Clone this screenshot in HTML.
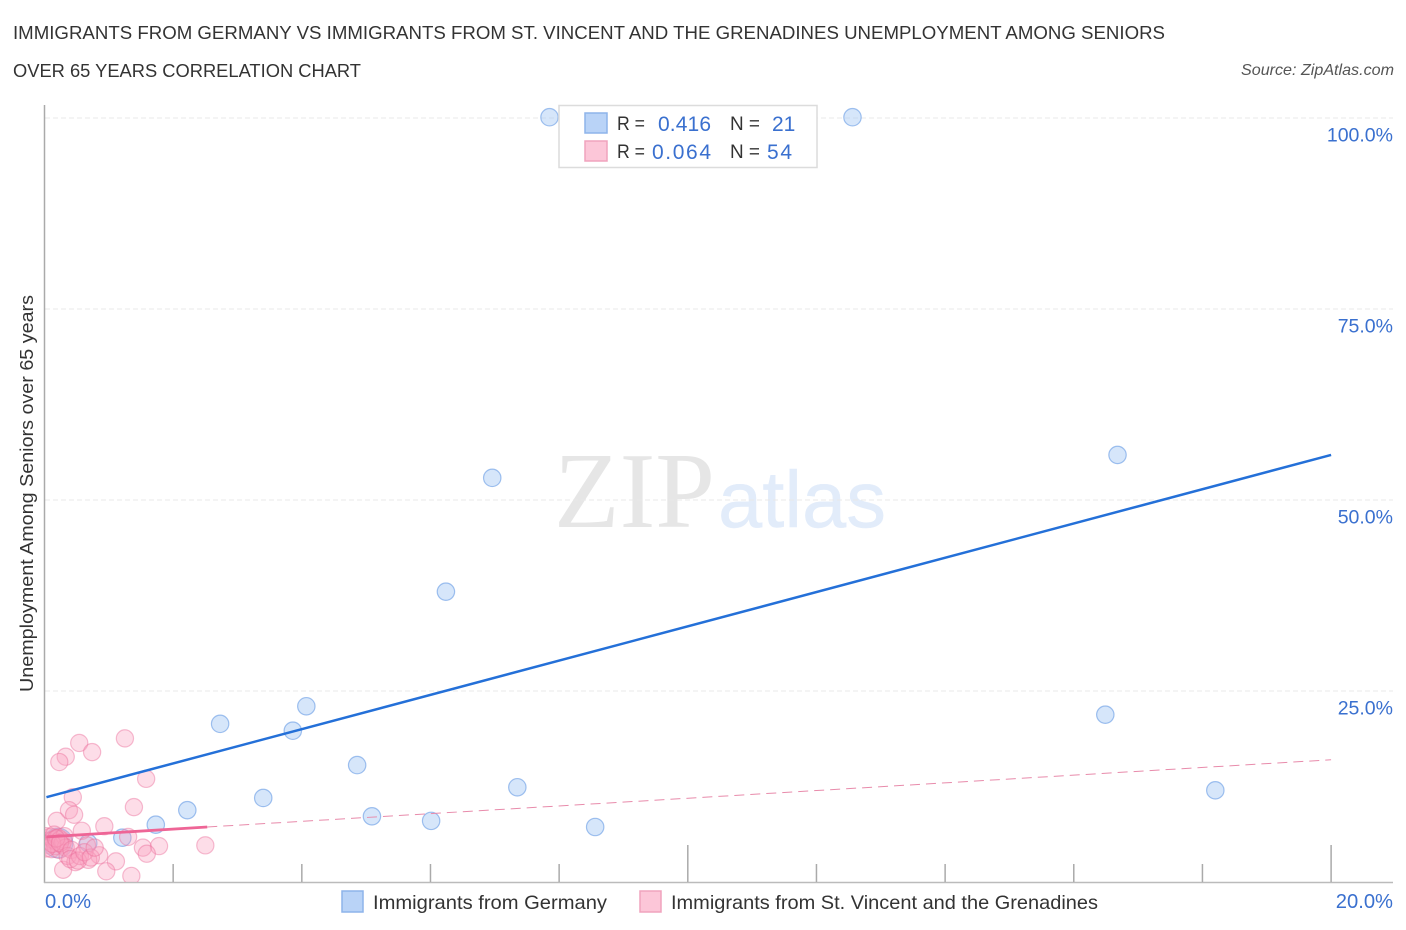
<!DOCTYPE html>
<html>
<head>
<meta charset="utf-8">
<title>Unemployment Among Seniors Correlation Chart</title>
<style>
html,body{margin:0;padding:0;background:#fff;width:1406px;height:930px;overflow:hidden}
svg{display:block;font-family:"Liberation Sans",sans-serif}
</style>
</head>
<body>
<svg id="chart" width="1406" height="930" viewBox="0 0 1406 930">
  <text x="13" y="39" font-size="18.6" fill="#333" textLength="1152" lengthAdjust="spacingAndGlyphs">IMMIGRANTS FROM GERMANY VS IMMIGRANTS FROM ST. VINCENT AND THE GRENADINES UNEMPLOYMENT AMONG SENIORS</text>
  <text x="13" y="77" font-size="18.6" fill="#333" textLength="348" lengthAdjust="spacingAndGlyphs">OVER 65 YEARS CORRELATION CHART</text>
  <text x="1394" y="75" font-size="15.8" font-style="italic" fill="#555" text-anchor="end" textLength="153" lengthAdjust="spacingAndGlyphs">Source: ZipAtlas.com</text>

  <text x="554" y="527" font-family="'Liberation Serif',serif" font-size="108" fill="#e6e6e6" textLength="161" lengthAdjust="spacingAndGlyphs">ZIP</text>
  <text x="718" y="527" font-size="80" fill="#e2ecfa" stroke="#e2ecfa" stroke-width="0.400" textLength="168" lengthAdjust="spacingAndGlyphs">atlas</text>

  <g id="grid"></g>
  <g id="axes"></g>
  <defs><clipPath id="plot-clip"><rect x="45" y="100" width="1348" height="782"></rect></clipPath></defs>
  <g id="marks" clip-path="url(#plot-clip)"></g>
  <g id="labels"></g>

  <text transform="translate(33,493.500) rotate(-90)" font-size="18.800" fill="#333" text-anchor="middle" textLength="397" lengthAdjust="spacingAndGlyphs">Unemployment Among Seniors over 65 years</text>

  <g>
    <rect x="559" y="105.500" width="258" height="62" fill="#fff" stroke="#dcdcdc" stroke-width="1.500"></rect>
    <rect x="585" y="113" width="22" height="20" fill="#b9d3f7" stroke="#8db4ea" stroke-width="1.500"></rect>
    <rect x="585" y="141" width="22" height="20" fill="#fcc6d8" stroke="#f0a3bd" stroke-width="1.500"></rect>
    <text x="617" y="130" font-size="19" fill="#333" textLength="28" lengthAdjust="spacingAndGlyphs">R =</text>
    <text x="658" y="131" font-size="21" fill="#3a70cf" textLength="53" lengthAdjust="spacing">0.416</text>
    <text x="730" y="130" font-size="19" fill="#333" textLength="30" lengthAdjust="spacingAndGlyphs">N =</text>
    <text x="772" y="131" font-size="21" fill="#3a70cf">21</text>
    <text x="617" y="158" font-size="19" fill="#333" textLength="28" lengthAdjust="spacingAndGlyphs">R =</text>
    <text x="652" y="159" font-size="21" fill="#3a70cf" textLength="59" lengthAdjust="spacing">0.064</text>
    <text x="730" y="158" font-size="19" fill="#333" textLength="30" lengthAdjust="spacingAndGlyphs">N =</text>
    <text x="767" y="159" font-size="21" fill="#3a70cf" textLength="25" lengthAdjust="spacing">54</text>
  </g>

  <g>
    <rect x="342" y="891" width="21" height="21" fill="#b9d3f7" stroke="#8db4ea" stroke-width="1.500"></rect>
    <text x="373" y="909" font-size="19.500" fill="#333" textLength="234" lengthAdjust="spacingAndGlyphs">Immigrants from Germany</text>
    <rect x="640" y="891" width="21" height="21" fill="#fcc6d8" stroke="#f0a3bd" stroke-width="1.500"></rect>
    <text x="671" y="909" font-size="19.500" fill="#333" textLength="427" lengthAdjust="spacingAndGlyphs">Immigrants from St. Vincent and the Grenadines</text>
  </g>
</svg>
<script>
var yTickValues = [25, 50, 75, 100];
var yTickLabels = ['25.0%', '50.0%', '75.0%', '100.0%'];
var xTickValues = [2, 4, 6, 8, 10, 12, 14, 16, 18, 20];
var xMajorTicks = [10, 20];
var xEndLabels = ['0.0%', '20.0%'];

var germanyX = [7.85, 12.56, 16.68, 6.96, 6.24, 4.07, 2.73, 3.86, 16.49, 4.86, 7.35, 18.2, 3.40, 2.22, 5.09, 6.01, 1.73, 8.56, 1.21, 0.68, 0.21];
var germanyY = [100.1, 100.1, 55.9, 52.9, 38.0, 23.0, 20.7, 19.8, 21.9, 15.3, 12.4, 12.0, 11.0, 9.4, 8.6, 8.0, 7.5, 7.2, 5.8, 5.1, 5.1];
var germanyWeight = [1, 1, 1, 1, 1, 1, 1, 1, 1, 1, 1, 1, 1, 1, 1, 1, 1, 1, 1, 1, 1.7];

var vincentX = [0.54, 1.25, 0.74, 0.33, 0.23, 1.58, 0.44, 1.39, 0.38, 0.46, 0.19, 0.93, 0.58, 1.30, 0.66, 1.53, 1.78, 1.59, 2.50, 0.85, 1.11, 0.96, 1.35, 0.29, 0.68,
  0.02, 0.05, 0.07, 0.09, 0.11, 0.13, 0.15, 0.17, 0.19, 0.21, 0.23, 0.25, 0.27, 0.29, 0.31, 0.33, 0.03, 0.12, 0.18, 0.24,
  0.36, 0.42, 0.48, 0.40, 0.55, 0.52, 0.62, 0.72, 0.78];
var vincentY = [18.2, 18.8, 17.0, 16.4, 15.7, 13.5, 11.1, 9.8, 9.4, 8.8, 8.0, 7.3, 6.7, 5.9, 4.8, 4.5, 4.7, 3.7, 4.8, 3.5, 2.7, 1.4, 0.8, 1.6, 2.9,
  6.0, 5.4, 4.8, 5.9, 4.3, 5.5, 6.2, 4.7, 5.2, 5.8, 4.2, 5.6, 4.9, 5.3, 6.0, 4.5, 4.4, 5.0, 5.7, 5.1,
  3.4, 4.2, 2.6, 3.0, 3.4, 2.8, 3.9, 3.2, 4.5];

var germanyTrendX = [0.03, 20];
var germanyTrendY = [11.1, 55.9];
var vincentSolidX = [0.03, 2.53];
var vincentSolidY = [5.9, 7.2];
var vincentDashX = [2.53, 20];
var vincentDashY = [7.2, 16.0];

function xScale(v) { return 44.5 + v * 64.33; }
function yScale(v) { return 882 - v * 7.64; }

var NS = 'http://www.w3.org/2000/svg';
function make(parent, tag, attrs, text) {
  var el = document.createElementNS(NS, tag);
  for (var k in attrs) el.setAttribute(k, attrs[k]);
  if (text) el.textContent = text;
  parent.appendChild(el);
  return el;
}

var gridG = document.getElementById('grid');
var axesG = document.getElementById('axes');
var marksG = document.getElementById('marks');
var labelsG = document.getElementById('labels');

yTickValues.forEach(function (v, i) {
  var line = make(gridG, 'line', {x1: 45, x2: 1393, y1: yScale(v), y2: yScale(v), stroke: '#e8e8e8', 'stroke-width': 1, 'stroke-dasharray': '5 3'});
  
  
  var label = make(labelsG, 'text', {x: 1393, y: yScale(v) + 23.5, 'font-size': 19.5, fill: '#3a70cf', 'text-anchor': 'end'}, yTickLabels[i]);
  
  
});

var yAxis = make(axesG, 'line', {x1: 44.5, x2: 44.5, y1: 105, y2: 883, stroke: '#aaa', 'stroke-width': 1.5});


var xAxis = make(axesG, 'line', {x1: 44, x2: 1393, y1: 882.5, y2: 882.5, stroke: '#bbb', 'stroke-width': 1.5});



xTickValues.forEach(function (v) {
  var top = xMajorTicks.indexOf(v) >= 0 ? 845 : 864;
  var tick = make(axesG, 'line', {x1: xScale(v), x2: xScale(v), y1: top, y2: 882, stroke: '#aaa', 'stroke-width': 1.5});
  
  
});

var xLabel0 = make(labelsG, 'text', {x: 45, y: 908, 'font-size': 20.2, fill: '#3a70cf'}, xEndLabels[0]);


var xLabel1 = make(labelsG, 'text', {x: 1393, y: 908, 'font-size': 20.2, fill: '#3a70cf', 'text-anchor': 'end'}, xEndLabels[1]);



germanyX.forEach(function (v, i) {
  var c = make(marksG, 'circle', {cx: xScale(v), cy: yScale(germanyY[i]), r: 8.7 * germanyWeight[i], fill: 'rgba(165,200,245,0.45)', stroke: 'rgba(90,145,225,0.55)', 'stroke-width': 1.2});
  
  
});

vincentX.forEach(function (v, i) {
  var c = make(marksG, 'circle', {cx: xScale(v), cy: yScale(vincentY[i]), r: 8.6, fill: 'rgba(250,160,190,0.36)', stroke: 'rgba(235,110,155,0.45)', 'stroke-width': 1.2});
  
  
});

var trendA = make(marksG, 'line', {x1: xScale(germanyTrendX[0]), y1: yScale(germanyTrendY[0]), x2: xScale(germanyTrendX[1]), y2: yScale(germanyTrendY[1]), stroke: '#2470d8', 'stroke-width': 2.5});


var trendB = make(marksG, 'line', {x1: xScale(vincentSolidX[0]), y1: yScale(vincentSolidY[0]), x2: xScale(vincentSolidX[1]), y2: yScale(vincentSolidY[1]), stroke: '#ee6596', 'stroke-width': 2.8});


var trendC = make(marksG, 'line', {x1: xScale(vincentDashX[0]), y1: yScale(vincentDashY[0]), x2: xScale(vincentDashX[1]), y2: yScale(vincentDashY[1]), stroke: '#e88bab', 'stroke-width': 1, 'stroke-dasharray': '10 6'});


</script>
</body>
</html>
